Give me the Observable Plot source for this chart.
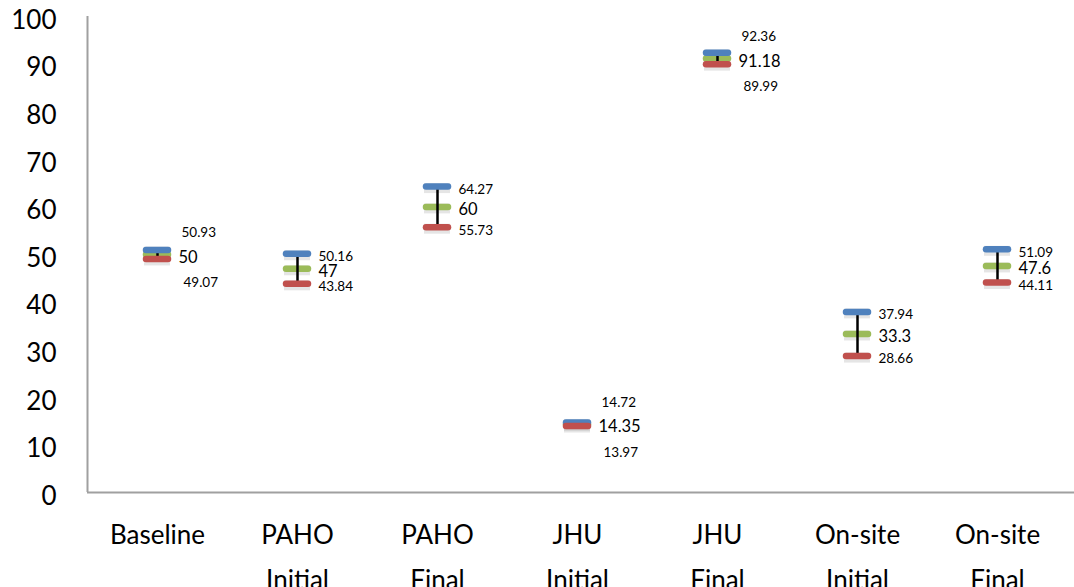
<!DOCTYPE html>
<html>
<head>
<meta charset="utf-8">
<script src="https://cdn.jsdelivr.net/npm/d3@7"></script>
<script src="https://cdn.jsdelivr.net/npm/@observablehq/plot@0.6"></script>
<style>
  html, body { margin: 0; padding: 0; background: #fff; }
  #chart { width: 1074px; height: 587px; }
</style>
</head>
<body>
<div id="chart"></div>
<script>
const categories = ["Baseline", "PAHO Initial", "PAHO Final", "JHU Initial", "JHU Final", "On-site Initial", "On-site Final"];
const categoryLabels = ["Baseline", "PAHO\nInitial", "PAHO\nFinal", "JHU\nInitial", "JHU\nFinal", "On-site\nInitial", "On-site\nFinal"];
const highValues = [50.93, 50.16, 64.27, 14.72, 92.36, 37.94, 51.09];
const meanValues = [50, 47, 60, 14.35, 91.18, 33.3, 47.6];
const lowValues = [49.07, 43.84, 55.73, 13.97, 89.99, 28.66, 44.11];
const yTicks = [0, 10, 20, 30, 40, 50, 60, 70, 80, 90, 100];

const rows = categories.map((c, i) => ({
  cat: c,
  high: highValues[i],
  mean: meanValues[i],
  low: lowValues[i],
  tight: (highValues[i] - meanValues[i]) < 2
}));
const labelOf = new Map(categories.map((c, i) => [c, categoryLabels[i]]));

const W = 1074, H = 587;
const left = 87, right = 1067;
const bw = (right - left) / categories.length;
const inset = (bw - 22) / 2;

const blue = "#4F81BD", green = "#9BBB59", red = "#C0504D";
const fmt = v => String(v);

const shadow = key => Plot.tickY(rows, { x: "cat", y: key, stroke: "#000", strokeOpacity: 0.1, strokeWidth: 10, insetLeft: inset - 2, insetRight: inset - 2, dy: 1.5 });
const marker = (key, color) => Plot.tickY(rows, { x: "cat", y: key, stroke: color, strokeWidth: 6.5, insetLeft: inset, insetRight: inset, strokeLinecap: "round" });

const chart = Plot.plot({
  width: W,
  height: H,
  marginLeft: left,
  marginRight: 0,
  marginTop: 16,
  marginBottom: 95,
  style: { fontFamily: "Lato, 'Open Sans', sans-serif", color: "#000", background: "#fff" },
  x: { type: "band", domain: categories, range: [left, right], padding: 0, align: 0.5, label: null },
  y: { domain: [0, 100], label: null },
  marks: [
    Plot.axisY({ ticks: yTicks, tickSize: 0, tickPadding: 31, fontSize: 26, dy: 4, label: null, fill: "#000" }),
    Plot.axisX({ tickSize: 0, tickPadding: 20, fontSize: 26, lineHeight: 1.73, tickFormat: d => labelOf.get(d), label: null, fill: "#000" }),
    Plot.ruleY([0], { stroke: "#A0A0A0", strokeWidth: 2 }),
    Plot.ruleX([categories[0]], { dx: -bw / 2, stroke: "#A0A0A0", strokeWidth: 2 }),
    shadow("high"), shadow("mean"), shadow("low"),
    marker("mean", green),
    Plot.ruleX(rows, { x: "cat", y1: "low", y2: "high", stroke: "#000", strokeWidth: 2.5 }),
    marker("high", blue),
    marker("low", red),
    // value labels
    Plot.text(rows.filter(d => !d.tight), { x: "cat", y: "high", text: d => fmt(d.high), dx: 21, dy: 3, textAnchor: "start", fontSize: 13.5, fill: "#000" }),
    Plot.text(rows.filter(d => !d.tight), { x: "cat", y: "low", text: d => fmt(d.low), dx: 21, dy: 3, textAnchor: "start", fontSize: 13.5, fill: "#000" }),
    Plot.text(rows.filter(d => d.tight), { x: "cat", y: "mean", text: d => fmt(d.high), dx: 24, dy: -22, textAnchor: "start", fontSize: 13.5, fill: "#000" }),
    Plot.text(rows.filter(d => d.tight), { x: "cat", y: "mean", text: d => fmt(d.low), dx: 26, dy: 28, textAnchor: "start", fontSize: 13.5, fill: "#000" }),
    Plot.text(rows, { x: "cat", y: "mean", text: d => fmt(d.mean), dx: 21, dy: 3, textAnchor: "start", fontSize: 16.5, fill: "#000" })
  ]
});
document.getElementById("chart").appendChild(chart);
</script>
</body>
</html>
